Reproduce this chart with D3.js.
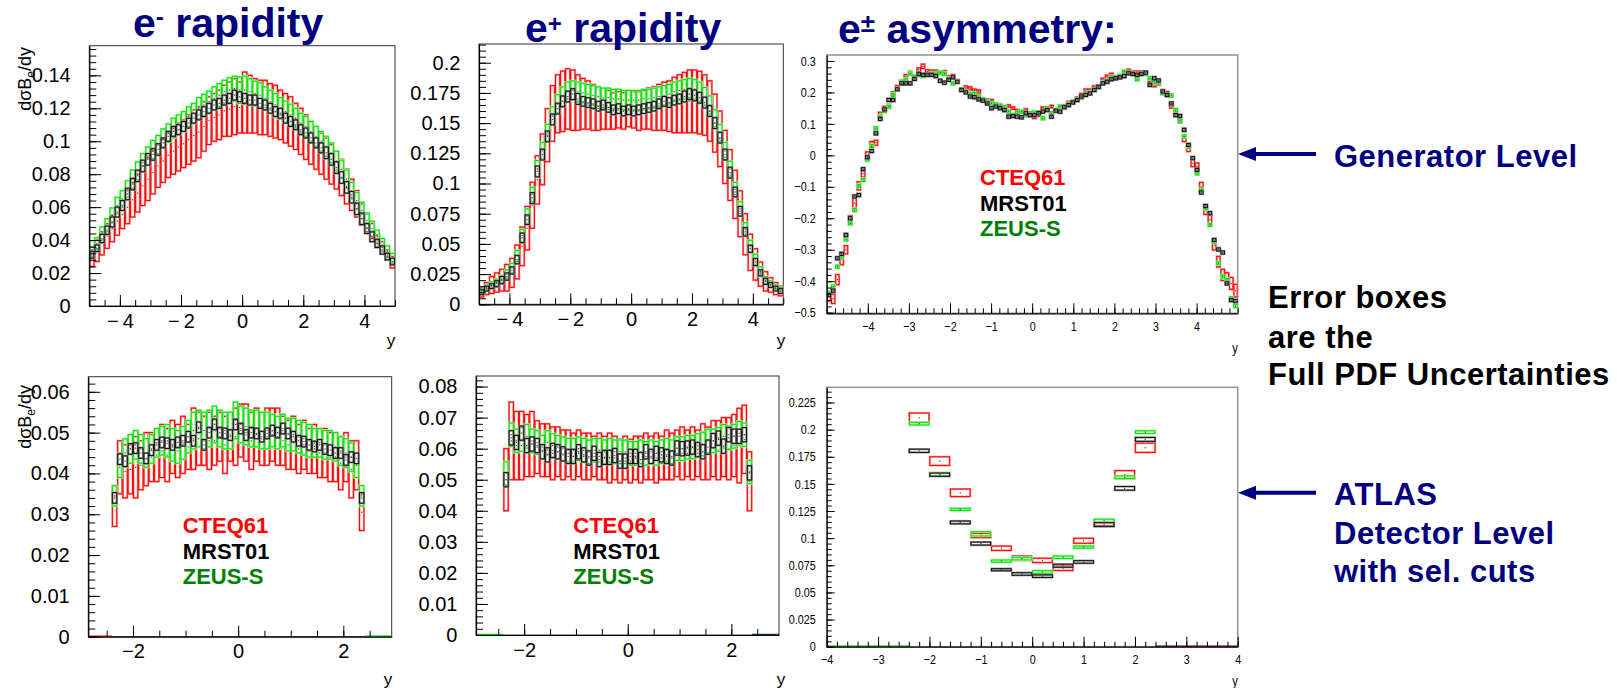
<!DOCTYPE html>
<html>
<head>
<meta charset="utf-8">
<script src="https://cdn.jsdelivr.net/npm/d3@7"></script>
<style>
  body { margin: 0; background: #fff; }
  svg { font-family: "Liberation Sans", Arial, Helvetica, sans-serif; }
</style>
</head>
<body>
<svg id="chart" width="1617" height="688"></svg>
<script>
// ---------------- data ----------------
var models = ["CTEQ61", "MRST01", "ZEUS-S"];

// bin ranges (rapidity)
var topBins = [-5, 5];      // 60 bins, generator level
var asymBins = [-5, 5];     // 96 bins, generator level asymmetry
var detBins = [-2.4, 2.4];  // 48 bins, detector level
var detAsymBins = [-2.4, 2.4]; // 12 bins, detector level asymmetry

// e- rapidity, generator level
var tlRedVal = [0.029,0.0335,0.038,0.0425,0.047,0.0515,0.0555,0.060,0.0645,0.0685,
  0.073,0.077,0.081,0.085,0.088,0.0915,0.094,0.0965,0.0985,0.101,
  0.1035,0.1055,0.109,0.1125,0.1145,0.116,0.1185,0.1195,0.121,0.1205,
  0.1235,0.1225,0.1215,0.1205,0.1205,0.119,0.118,0.116,0.114,0.112,
  0.109,0.106,0.1025,0.099,0.096,0.0925,0.0895,0.086,0.0825,0.078,
  0.0725,0.0675,0.062,0.0555,0.0505,0.0455,0.0395,0.0355,0.031,0.0265];
var tlRedErr = [0.005,0.0065,0.007,0.0075,0.008,0.0085,0.0085,0.010,0.0105,0.0115,
  0.012,0.013,0.013,0.013,0.013,0.0135,0.014,0.0145,0.0145,0.015,
  0.0155,0.0155,0.015,0.0145,0.0145,0.015,0.0155,0.0165,0.017,0.0155,
  0.0185,0.0175,0.0165,0.0165,0.0165,0.016,0.016,0.015,0.015,0.015,
  0.014,0.014,0.0135,0.013,0.013,0.0125,0.0125,0.012,0.0115,0.011,
  0.0105,0.0095,0.008,0.0065,0.0055,0.0045,0.0035,0.0035,0.003,0.0035];
var tlBlackVal = [0.031,0.035,0.041,0.046,0.051,0.057,0.061,0.068,0.074,0.079,
  0.085,0.089,0.092,0.095,0.099,0.103,0.106,0.107,0.109,0.111,
  0.114,0.116,0.118,0.120,0.122,0.123,0.125,0.126,0.128,0.127,
  0.126,0.125,0.125,0.123,0.122,0.120,0.118,0.117,0.114,0.112,
  0.110,0.107,0.105,0.102,0.099,0.096,0.093,0.089,0.084,0.078,
  0.072,0.066,0.059,0.053,0.047,0.042,0.038,0.034,0.030,0.027];
var tlBlackErr = [0.002,0.002,0.0025,0.0025,0.003,0.003,0.003,0.0035,0.0035,0.0035,
  0.0035,0.0035,0.0035,0.0035,0.003,0.003,0.003,0.003,0.003,0.003,
  0.003,0.003,0.003,0.003,0.003,0.003,0.003,0.003,0.003,0.003,
  0.003,0.003,0.003,0.003,0.003,0.003,0.003,0.003,0.003,0.003,
  0.003,0.003,0.003,0.003,0.003,0.003,0.0035,0.0035,0.0035,0.0035,
  0.0035,0.0035,0.0035,0.0035,0.003,0.003,0.0025,0.0025,0.002,0.002];
var tlGreenVal = [0.033,0.038,0.044,0.049,0.055,0.061,0.065,0.071,0.077,0.082,
  0.087,0.091,0.095,0.098,0.102,0.105,0.108,0.110,0.112,0.115,
  0.117,0.120,0.122,0.124,0.126,0.128,0.130,0.131,0.132,0.131,
  0.131,0.130,0.129,0.128,0.126,0.124,0.122,0.120,0.118,0.116,
  0.114,0.111,0.109,0.106,0.103,0.100,0.097,0.093,0.088,0.083,
  0.077,0.070,0.064,0.058,0.052,0.047,0.042,0.037,0.033,0.029];
var tlGreenErr = [0.003,0.0035,0.004,0.004,0.0045,0.005,0.005,0.005,0.0055,0.0055,
  0.0055,0.0055,0.0055,0.0055,0.0055,0.0055,0.006,0.006,0.006,0.006,
  0.006,0.0065,0.0065,0.0065,0.007,0.007,0.007,0.0075,0.0075,0.008,
  0.0085,0.008,0.0075,0.0075,0.007,0.007,0.007,0.0065,0.0065,0.0065,
  0.006,0.006,0.006,0.006,0.006,0.006,0.006,0.006,0.006,0.0055,
  0.0055,0.005,0.005,0.005,0.0045,0.0045,0.004,0.004,0.0035,0.003];

// e+ rapidity, generator level
var tmRedVal = [0.010,0.013,0.016,0.018,0.020,0.022,0.026,0.035,0.048,0.063,
  0.082,0.103,0.120,0.140,0.158,0.166,0.168,0.170,0.169,0.167,
  0.166,0.165,0.163,0.162,0.162,0.161,0.160,0.161,0.160,0.162,
  0.161,0.160,0.161,0.162,0.162,0.163,0.164,0.164,0.165,0.166,
  0.167,0.168,0.168,0.167,0.165,0.160,0.150,0.137,0.122,0.107,
  0.091,0.075,0.058,0.043,0.033,0.025,0.019,0.016,0.013,0.011];
var tmRedErr = [0.004,0.005,0.007,0.008,0.009,0.011,0.012,0.014,0.016,0.018,
  0.019,0.020,0.021,0.022,0.023,0.024,0.025,0.025,0.025,0.023,
  0.021,0.020,0.019,0.018,0.017,0.016,0.015,0.015,0.015,0.015,
  0.015,0.016,0.016,0.017,0.018,0.019,0.020,0.021,0.023,0.024,
  0.025,0.026,0.026,0.026,0.025,0.025,0.024,0.023,0.022,0.021,
  0.020,0.019,0.017,0.015,0.013,0.010,0.008,0.006,0.005,0.004];
var tmBlackVal = [0.010,0.013,0.015,0.017,0.020,0.023,0.028,0.037,0.055,0.070,
  0.088,0.110,0.124,0.139,0.153,0.162,0.168,0.172,0.174,0.170,
  0.168,0.167,0.166,0.164,0.165,0.163,0.161,0.162,0.160,0.161,
  0.160,0.161,0.162,0.163,0.164,0.166,0.168,0.167,0.169,0.170,
  0.172,0.174,0.173,0.171,0.167,0.160,0.150,0.138,0.124,0.109,
  0.093,0.077,0.060,0.046,0.035,0.026,0.019,0.016,0.013,0.011];
var tmBlackErr = [0.002,0.002,0.002,0.0025,0.003,0.003,0.003,0.0035,0.004,0.004,
  0.0045,0.0045,0.0045,0.0045,0.0045,0.0045,0.0045,0.0045,0.0045,0.0045,
  0.004,0.004,0.004,0.004,0.004,0.004,0.004,0.004,0.004,0.004,
  0.004,0.004,0.004,0.004,0.004,0.004,0.004,0.004,0.004,0.004,
  0.0045,0.0045,0.0045,0.0045,0.0045,0.0045,0.0045,0.0045,0.0045,0.0045,
  0.004,0.004,0.0035,0.003,0.003,0.0025,0.0025,0.002,0.002,0.002];
var tmGreenVal = [0.011,0.014,0.016,0.018,0.021,0.025,0.030,0.040,0.057,0.073,
  0.091,0.112,0.127,0.142,0.156,0.166,0.172,0.176,0.177,0.176,
  0.175,0.174,0.173,0.172,0.171,0.171,0.170,0.170,0.169,0.169,
  0.169,0.169,0.170,0.170,0.171,0.172,0.173,0.174,0.176,0.177,
  0.178,0.179,0.178,0.176,0.172,0.165,0.154,0.142,0.127,0.112,
  0.095,0.079,0.062,0.048,0.037,0.027,0.020,0.017,0.014,0.012];
var tmGreenErr = [0.002,0.002,0.0025,0.003,0.003,0.0035,0.004,0.0045,0.005,0.006,
  0.006,0.007,0.007,0.007,0.0075,0.0075,0.008,0.008,0.008,0.008,
  0.008,0.008,0.008,0.008,0.008,0.008,0.008,0.008,0.008,0.008,
  0.008,0.008,0.008,0.008,0.008,0.008,0.008,0.008,0.008,0.008,
  0.008,0.008,0.008,0.008,0.0075,0.0075,0.007,0.007,0.007,0.0065,
  0.006,0.006,0.0055,0.005,0.0045,0.004,0.003,0.0025,0.002,0.002];

// e+- asymmetry, generator level
var asRedVal = [-0.449,-0.456,-0.395,-0.33,-0.30,-0.205,-0.152,-0.097,-0.058,0.0,
  0.036,0.04,0.13,0.15,0.156,0.196,0.216,0.234,0.252,0.262,
  0.248,0.272,0.283,0.266,0.266,0.266,0.263,0.264,0.248,0.252,
  0.236,0.208,0.216,0.213,0.206,0.203,0.176,0.174,0.174,0.16,
  0.16,0.153,0.157,0.15,0.142,0.139,0.144,0.134,0.121,0.128,
  0.15,0.146,0.155,0.144,0.15,0.157,0.168,0.171,0.181,0.192,
  0.206,0.206,0.216,0.218,0.24,0.25,0.256,0.245,0.25,0.263,
  0.269,0.263,0.263,0.263,0.263,0.229,0.224,0.229,0.203,0.197,
  0.157,0.139,0.112,0.054,0.022,-0.025,-0.036,-0.099,-0.174,-0.205,
  -0.285,-0.338,-0.38,-0.391,-0.407,-0.43];
var asRedErr = [0.014,0.015,0.016,0.018,0.013,0.013,0.016,0.013,0.011,0.011,
  0.008,0.008,0.007,0.006,0.006,0.006,0.006,0.006,0.005,0.005,
  0.005,0.006,0.007,0.006,0.005,0.005,0.005,0.005,0.005,0.005,
  0.005,0.005,0.005,0.005,0.005,0.005,0.005,0.005,0.004,0.004,
  0.004,0.004,0.004,0.004,0.004,0.004,0.004,0.004,0.004,0.004,
  0.004,0.004,0.004,0.004,0.004,0.004,0.004,0.004,0.004,0.005,
  0.005,0.005,0.005,0.005,0.005,0.005,0.005,0.005,0.005,0.005,
  0.005,0.005,0.005,0.005,0.005,0.006,0.006,0.006,0.006,0.006,
  0.007,0.008,0.009,0.010,0.010,0.011,0.012,0.013,0.014,0.015,
  0.016,0.017,0.018,0.018,0.019,0.020];
var asBlackVal = [-0.444,-0.43,-0.327,-0.313,-0.253,-0.20,-0.131,-0.126,-0.044,-0.006,
  0.014,0.070,0.116,0.146,0.176,0.176,0.21,0.229,0.229,0.229,
  0.243,0.259,0.256,0.256,0.256,0.252,0.237,0.231,0.24,0.248,
  0.234,0.208,0.20,0.187,0.185,0.178,0.174,0.165,0.15,0.155,
  0.15,0.144,0.123,0.125,0.123,0.121,0.134,0.128,0.128,0.134,
  0.139,0.144,0.123,0.142,0.139,0.153,0.16,0.168,0.176,0.187,
  0.192,0.197,0.208,0.218,0.229,0.234,0.242,0.245,0.248,0.252,
  0.261,0.259,0.256,0.259,0.263,0.224,0.245,0.238,0.203,0.192,
  0.165,0.128,0.125,0.081,0.033,-0.009,-0.046,-0.118,-0.161,-0.184,
  -0.269,-0.299,-0.309,-0.407,-0.46,-0.463];
var asBlackErr = 0.005;
var asGreenVal = [-0.438,-0.417,-0.354,-0.322,-0.267,-0.216,-0.174,-0.097,-0.078,-0.013,
  0.030,0.086,0.123,0.141,0.155,0.192,0.21,0.234,0.24,0.26,
  0.25,0.255,0.252,0.256,0.259,0.26,0.263,0.259,0.242,0.229,
  0.234,0.21,0.203,0.195,0.195,0.187,0.178,0.171,0.165,0.162,
  0.157,0.153,0.139,0.128,0.134,0.139,0.128,0.134,0.136,0.136,
  0.118,0.15,0.134,0.144,0.155,0.153,0.163,0.171,0.176,0.184,
  0.197,0.199,0.208,0.216,0.231,0.237,0.248,0.248,0.252,0.266,
  0.263,0.259,0.242,0.259,0.259,0.245,0.234,0.231,0.197,0.192,
  0.19,0.144,0.110,0.06,0.028,-0.009,-0.057,-0.108,-0.168,-0.221,
  -0.274,-0.343,-0.385,-0.396,-0.454,-0.479];
var asGreenErr = 0.005;

// e- rapidity, detector level
var blRedVal = [0.032,0.0415,0.0405,0.041,0.0415,0.042,0.0435,0.044,0.0445,0.0455,
  0.0445,0.0465,0.0455,0.047,0.0465,0.0485,0.0485,0.048,0.048,0.048,
  0.049,0.047,0.049,0.049,0.0505,0.050,0.048,0.0495,0.0485,0.049,
  0.0495,0.049,0.048,0.047,0.0475,0.046,0.047,0.0455,0.046,0.045,
  0.045,0.044,0.044,0.0425,0.044,0.041,0.042,0.0305];
var blRedErr = [0.005,0.0065,0.0065,0.006,0.0075,0.006,0.0065,0.006,0.0065,0.0065,
  0.0065,0.0065,0.0065,0.007,0.0055,0.0075,0.0065,0.006,0.007,0.006,
  0.006,0.007,0.006,0.007,0.0065,0.007,0.007,0.0065,0.0065,0.007,
  0.0065,0.007,0.006,0.006,0.0065,0.006,0.006,0.0055,0.006,0.006,
  0.006,0.006,0.006,0.0065,0.006,0.007,0.006,0.0045];
var blBlackVal = [0.034,0.0435,0.043,0.046,0.0462,0.045,0.0437,0.0457,0.047,0.0476,
  0.0474,0.047,0.0476,0.048,0.049,0.048,0.0513,0.047,0.050,0.052,
  0.050,0.0498,0.0494,0.052,0.051,0.0494,0.050,0.0498,0.049,0.0498,
  0.0505,0.050,0.051,0.0498,0.049,0.048,0.0478,0.047,0.0466,0.047,
  0.046,0.0457,0.045,0.045,0.0433,0.044,0.0437,0.034];
var blBlackErr = 0.0013;
var blGreenVal = [0.0345,0.042,0.045,0.046,0.047,0.046,0.045,0.046,0.0475,0.048,
  0.048,0.047,0.0465,0.0475,0.049,0.0505,0.051,0.0505,0.051,0.052,
  0.051,0.0505,0.0505,0.053,0.052,0.0515,0.051,0.051,0.0505,0.0505,
  0.0505,0.050,0.0505,0.0495,0.0495,0.049,0.0485,0.048,0.0475,0.0475,
  0.047,0.047,0.0465,0.0455,0.045,0.044,0.042,0.0345];
var blGreenErr = [0.0025,0.003,0.0035,0.0035,0.0035,0.0035,0.0035,0.0035,0.0035,0.0035,
  0.004,0.004,0.004,0.004,0.004,0.0045,0.0045,0.0045,0.0045,0.0045,
  0.0045,0.0045,0.0045,0.0045,0.0045,0.0045,0.0045,0.0045,0.0045,0.0045,
  0.004,0.004,0.004,0.004,0.004,0.004,0.004,0.004,0.0035,0.0035,
  0.0035,0.0035,0.0035,0.0035,0.0035,0.0035,0.003,0.0025];

// e+ rapidity, detector level
var bmRedVal = [0.050,0.0625,0.061,0.061,0.061,0.0615,0.0605,0.0595,0.0595,0.0585,
  0.059,0.058,0.0585,0.0575,0.0585,0.0575,0.0575,0.0575,0.0575,0.057,
  0.057,0.057,0.056,0.057,0.056,0.057,0.0565,0.0575,0.057,0.057,
  0.057,0.058,0.0575,0.0585,0.0585,0.0585,0.0585,0.0585,0.059,0.0585,
  0.060,0.0595,0.0605,0.060,0.061,0.061,0.063,0.0495];
var bmRedErr = [0.010,0.0125,0.011,0.011,0.010,0.0105,0.0085,0.0085,0.0085,0.0085,
  0.008,0.008,0.0075,0.0075,0.0075,0.0075,0.0075,0.0065,0.0075,0.007,
  0.008,0.007,0.007,0.007,0.007,0.007,0.0075,0.0075,0.007,0.008,
  0.007,0.008,0.0075,0.0075,0.0085,0.0075,0.0085,0.0075,0.009,0.0085,
  0.009,0.0095,0.0095,0.010,0.010,0.012,0.011,0.0095];
var bmBlackVal = [0.050,0.0635,0.062,0.065,0.061,0.0615,0.061,0.059,0.058,0.0594,
  0.059,0.0583,0.0575,0.0575,0.059,0.058,0.057,0.0585,0.0565,0.0572,
  0.0572,0.0578,0.056,0.056,0.0575,0.0575,0.0565,0.059,0.0575,0.0585,
  0.058,0.0575,0.057,0.0602,0.060,0.0602,0.0605,0.0597,0.059,0.0605,
  0.0626,0.0634,0.0608,0.0645,0.064,0.064,0.0645,0.0522];
var bmBlackErr = 0.0023;
var bmGreenVal = [0.052,0.0645,0.0625,0.063,0.064,0.0625,0.062,0.0605,0.062,0.061,
  0.0605,0.060,0.0595,0.0595,0.060,0.0595,0.059,0.0595,0.0595,0.059,
  0.0595,0.059,0.059,0.059,0.0585,0.0585,0.059,0.0585,0.059,0.0585,
  0.059,0.0595,0.059,0.060,0.060,0.0605,0.0605,0.061,0.0615,0.0625,
  0.0625,0.063,0.064,0.0635,0.064,0.065,0.0645,0.0525];
var bmGreenErr = 0.0038;

// e+- asymmetry, detector level
var brRedVal = [0.211,0.171,0.1418,0.1025,0.0907,0.0815,0.0795,0.0722,0.0976,0.1145,0.1585,0.1833];
var brRedErr = [0.0043,0.004,0.0035,0.002,0.002,0.002,0.002,0.002,0.0023,0.003,0.0037,0.0043];
var brBlackVal = [0.1805,0.1585,0.1145,0.095,0.0709,0.067,0.065,0.0746,0.0781,0.1125,0.1459,0.191];
var brBlackErr = [0.0015,0.0015,0.0013,0.0014,0.001,0.0012,0.0012,0.0014,0.0012,0.0018,0.0017,0.0018];
var brGreenVal = [0.2055,0.159,0.1265,0.104,0.0789,0.0812,0.0689,0.0824,0.0918,0.116,0.1562,0.1977];
var brGreenErr = [0.0012,0.0015,0.001,0.002,0.001,0.0012,0.0012,0.0012,0.001,0.0015,0.0012,0.0012];

// tick labels
var tlYTicks = [0, 0.02, 0.04, 0.06, 0.08, 0.1, 0.12, 0.14];
var tmYTicks = [0, 0.025, 0.05, 0.075, 0.1, 0.125, 0.15, 0.175, 0.2];
var asYTicks = [-0.5, -0.4, -0.3, -0.2, -0.1, 0, 0.1, 0.2, 0.3];
var blYTicks = [0, 0.01, 0.02, 0.03, 0.04, 0.05, 0.06];
var bmYTicks = [0, 0.01, 0.02, 0.03, 0.04, 0.05, 0.06, 0.07, 0.08];
var brYTicks = [0, 0.025, 0.05, 0.075, 0.1, 0.125, 0.15, 0.175, 0.2, 0.225];
var topXTicks = [-4, -2, 0, 2, 4];
var asXTicks = [-4, -3, -2, -1, 0, 1, 2, 3, 4];
var detXTicks = [-2, 0, 2];

// ---------------- drawing ----------------
var navy = "#000080";
var red = { color: "#ff0000", halo: "#ff9c9c" };
var black = { color: "#111111", halo: "#9a9a9a" };
var green = { color: "#00e000", halo: "#9cff9c" };
var legendColors = ["#ff0000", "#000000", "#008000"];

var svg = d3.select("#chart");
svg.append("rect").attr("width", 1617).attr("height", 688).attr("fill", "#fff");

// two looks of ROOT frames: large labels, and the narrow asymmetry ones
var styles = {
  wide: { font: 20, squeeze: 1, yMajor: 12, xMajor: 11, yMinor: 7, xMinor: 6, yPad: 18.6, xPad: 7.5, frame: "#333", frameW: 1 },
  narrow: { font: 13, squeeze: 0.83, yMajor: 8, xMajor: 10, yMinor: 5, xMinor: 5, yPad: 11, xPad: 8.5, frame: "#999", frameW: 1.6 }
};

function withSeries(look, val, err) {
  return { val: val, err: err, color: look.color, halo: look.halo };
}

var panels = [
  { name: "eminus", frame: [89.3, 45.7, 395, 306], xDomain: [-5, 5], yDomain: [0, 0.158], bins: topBins,
    series: [withSeries(red, tlRedVal, tlRedErr), withSeries(green, tlGreenVal, tlGreenErr), withSeries(black, tlBlackVal, tlBlackErr)],
    xTicks: topXTicks, yTicks: tlYTicks, xStep: 0.5, yStep: 0.004, style: "wide", gapMinus: true,
    xTitle: [391, 346], yTitle: [31, 47] },
  { name: "eplus", frame: [479, 44, 783.3, 304.3], xDomain: [-5, 5], yDomain: [0, 0.2155], bins: topBins,
    series: [withSeries(red, tmRedVal, tmRedErr), withSeries(green, tmGreenVal, tmGreenErr), withSeries(black, tmBlackVal, tmBlackErr)],
    xTicks: topXTicks, yTicks: tmYTicks, xStep: 0.5, yStep: 0.005, style: "wide", gapMinus: true,
    xTitle: [781, 346] },
  { name: "asym", frame: [826.7, 55, 1237.7, 313.3], xDomain: [-5, 5], yDomain: [-0.502, 0.319], bins: asymBins,
    series: [withSeries(red, asRedVal, asRedErr), withSeries(green, asGreenVal, asGreenErr), withSeries(black, asBlackVal, asBlackErr)],
    xTicks: asXTicks, yTicks: asYTicks, xStep: 0.2, yStep: 0.02, style: "narrow",
    xTitle: [1235, 353], legend: [980, 185, 25.5] },
  { name: "eminusDet", frame: [88.3, 376.7, 391.7, 636.7], xDomain: [-2.85, 2.92], yDomain: [0, 0.0637], bins: detBins,
    series: [withSeries(red, blRedVal, blRedErr), withSeries(green, blGreenVal, blGreenErr), withSeries(black, blBlackVal, blBlackErr)],
    xTicks: detXTicks, yTicks: blYTicks, xStep: 0.5, yStep: 0.002, style: "wide",
    xTitle: [388, 685], yTitle: [31, 385], legend: [182.7, 533.3, 25.5], zero: ["#ff0000", "#00c000"] },
  { name: "eplusDet", frame: [476, 376, 779, 635], xDomain: [-2.93, 2.92], yDomain: [0, 0.0834], bins: detBins,
    series: [withSeries(red, bmRedVal, bmRedErr), withSeries(green, bmGreenVal, bmGreenErr), withSeries(black, bmBlackVal, bmBlackErr)],
    xTicks: detXTicks, yTicks: bmYTicks, xStep: 0.5, yStep: 0.002, style: "wide",
    xTitle: [781, 685], legend: [573.3, 533.3, 25.5], zero: ["#00c000", "#0a400a"] },
  { name: "asymDet", frame: [826.7, 387.3, 1237.7, 646.7], xDomain: [-4, 4], yDomain: [0, 0.239], bins: detAsymBins,
    series: [withSeries(red, brRedVal, brRedErr), withSeries(green, brGreenVal, brGreenErr), withSeries(black, brBlackVal, brBlackErr)],
    xTicks: asXTicks, yTicks: brYTicks, xStep: 0.2, yStep: 0.005, style: "narrow",
    xTitle: [1235, 686], zero: ["#00a000", "#600000"] }
];

function tickText(d, gap) {
  var s = String(+d.toFixed(3));
  return s.replace("-", gap ? "\u2212\u2009" : "\u2212");
}

function minorTicks(domain, step) {
  var start = Math.ceil(domain[0] / step - 1e-6);
  var stop = Math.floor(domain[1] / step + 1e-6);
  return d3.range(start, stop + 1).map(function(i) { return +(i * step).toFixed(6); });
}

function drawPanel(p) {
  var st = styles[p.style];
  var left = p.frame[0], top = p.frame[1], right = p.frame[2], bottom = p.frame[3];
  var xScale = d3.scaleLinear().domain(p.xDomain).range([left, right]);
  var yScale = d3.scaleLinear().domain(p.yDomain).range([bottom, top]);

  var g = svg.append("g").attr("class", "panel-" + p.name);

  svg.append("clipPath").attr("id", "clip-" + p.name)
    .append("rect")
    .attr("x", left).attr("y", top - 1)
    .attr("width", right - left).attr("height", bottom - top + 1);

  // frame
  g.append("rect")
    .attr("x", left).attr("y", top)
    .attr("width", right - left).attr("height", bottom - top)
    .attr("fill", "none")
    .attr("stroke", st.frame)
    .attr("stroke-width", st.frameW);

  var marks = g.append("g").attr("clip-path", "url(#clip-" + p.name + ")");

  // empty bins outside the acceptance drawn flat on zero
  if (p.zero) {
    marks.append("line")
      .attr("x1", xScale(p.xDomain[0])).attr("x2", xScale(p.bins[0]))
      .attr("y1", yScale(0) - 0.5).attr("y2", yScale(0) - 0.5)
      .attr("stroke", p.zero[0]).attr("stroke-width", 1.5);
    marks.append("line")
      .attr("x1", xScale(p.bins[1])).attr("x2", xScale(p.xDomain[1]))
      .attr("y1", yScale(0) - 0.5).attr("y2", yScale(0) - 0.5)
      .attr("stroke", p.zero[1]).attr("stroke-width", 1.5);
  }

  // error boxes, one per bin and per PDF set
  p.series.forEach(function(s) {
    var n = s.val.length;
    var w = (p.bins[1] - p.bins[0]) / n;
    var rows = s.val.map(function(v, i) {
      var e = Array.isArray(s.err) ? s.err[i] : s.err;
      return { lo: p.bins[0] + i * w, hi: p.bins[0] + (i + 1) * w, v: v, e: e };
    });

    [[s.halo, 2.2], [s.color, 1]].forEach(function(pen) {
      marks.append("g").selectAll("rect")
        .data(rows)
        .enter()
        .append("rect")
        .attr("x", d => xScale(d.lo) + 0.4)
        .attr("y", d => yScale(d.v + d.e))
        .attr("width", d => Math.max(xScale(d.hi) - xScale(d.lo) - 0.8, 1))
        .attr("height", d => Math.max(yScale(d.v - d.e) - yScale(d.v + d.e), 0.6))
        .attr("fill", "none")
        .attr("stroke", pen[0])
        .attr("stroke-width", pen[1]);
    });

    // tiny marker at the central value
    marks.append("g").selectAll("rect")
      .data(rows)
      .enter()
      .append("rect")
      .attr("x", d => xScale((d.lo + d.hi) / 2) - 0.6)
      .attr("y", d => yScale(d.v) - 0.6)
      .attr("width", 1.2)
      .attr("height", 1.2)
      .attr("fill", "#444");
  });

  // minor ticks
  g.append("g")
    .attr("transform", "translate(" + left + ",0)")
    .call(d3.axisLeft(yScale).tickValues(minorTicks(p.yDomain, p.yStep)).tickSize(-st.yMinor).tickFormat(""))
    .call(a => a.select(".domain").remove());
  g.append("g")
    .attr("transform", "translate(0," + bottom + ")")
    .call(d3.axisBottom(xScale).tickValues(minorTicks(p.xDomain, p.xStep)).tickSize(-st.xMinor).tickFormat(""))
    .call(a => a.select(".domain").remove());

  // major ticks with labels
  var yAxis = g.append("g")
    .attr("transform", "translate(" + left + ",0)")
    .call(d3.axisLeft(yScale)
      .tickValues(p.yTicks)
      .tickSizeInner(-st.yMajor)
      .tickSizeOuter(0)
      .tickPadding(st.yPad / st.squeeze)
      .tickFormat(d => tickText(d, false)));

  var xAxis = g.append("g")
    .attr("transform", "translate(0," + bottom + ")")
    .call(d3.axisBottom(xScale)
      .tickValues(p.xTicks)
      .tickSizeInner(-st.xMajor)
      .tickSizeOuter(0)
      .tickPadding(st.xPad)
      .tickFormat(d => tickText(d, p.gapMinus)));

  [yAxis, xAxis].forEach(function(ax) {
    ax.attr("font-size", st.font).attr("font-family", "'Liberation Sans', Arial, sans-serif");
    ax.selectAll(".tick line").attr("stroke", "#000");
    ax.select(".domain").attr("stroke", "#000").attr("stroke-width", 1.2);
    ax.selectAll(".tick text").attr("fill", "#000").attr("font-size", st.font);
    if (st.squeeze !== 1) {
      ax.selectAll(".tick text").attr("transform", "scale(" + st.squeeze + ",1)");
    }
  });

  // x axis title
  g.append("text")
    .attr("x", p.xTitle[0])
    .attr("y", p.xTitle[1])
    .attr("text-anchor", "middle")
    .attr("font-size", p.style === "wide" ? 17 : 14)
    .attr("transform", p.style === "wide" ? null : "translate(" + (p.xTitle[0] * 0.2) + ",0) scale(0.8,1)")
    .text("y");

  // y axis title, running upwards along the axis
  if (p.yTitle) {
    var holder = g.append("g")
      .attr("transform", "translate(" + p.yTitle[0] + "," + p.yTitle[1] + ")");
    var yt = holder.append("text")
      .attr("transform", "rotate(-90)")
      .attr("x", 0)
      .attr("y", 0)
      .attr("text-anchor", "end")
      .attr("font-size", 18);
    yt.append("tspan").text("d\u03c3B");
    yt.append("tspan").attr("font-size", 12).attr("dy", 4).text("e");
    yt.append("tspan").attr("dy", -4).text("/dy");
  }

  // legend
  if (p.legend) {
    models.forEach(function(m, i) {
      g.append("text")
        .attr("x", p.legend[0])
        .attr("y", p.legend[1] + i * p.legend[2])
        .attr("font-size", 22)
        .attr("font-weight", "bold")
        .attr("fill", legendColors[i])
        .text(m);
    });
  }
}

panels.forEach(drawPanel);

// panel titles
function title(x, y, sup, rest, supSize, supDy) {
  var t = svg.append("text")
    .attr("x", x).attr("y", y)
    .attr("font-size", 41)
    .attr("font-weight", "bold")
    .attr("fill", navy);
  t.append("tspan").text("e");
  t.append("tspan").attr("font-size", supSize).attr("dy", supDy).text(sup);
  t.append("tspan").attr("dy", -supDy).text(rest);
}
title(133, 36.5, "-", " rapidity", 24, -12);
title(525, 41.5, "+", " rapidity", 24, -10);
title(838, 42.5, "\u00b1", " asymmetry:", 26, -10.5);

// side notes with arrows
function arrow(y) {
  svg.append("line")
    .attr("x1", 1316).attr("x2", 1250)
    .attr("y1", y).attr("y2", y)
    .attr("stroke", navy)
    .attr("stroke-width", 4);
  svg.append("path")
    .attr("d", "M1238," + y + "L1256," + (y - 7) + "L1256," + (y + 7) + "Z")
    .attr("fill", navy);
}

function note(lines, x, ys, color) {
  lines.forEach(function(line, i) {
    svg.append("text")
      .attr("x", x).attr("y", ys[i])
      .attr("font-size", 31)
      .attr("font-weight", "bold")
      .attr("letter-spacing", 0.5)
      .attr("fill", color)
      .text(line);
  });
}

arrow(154);
note(["Generator Level"], 1334, [166.7], navy);
note(["Error boxes", "are the", "Full PDF Uncertainties"], 1268, [308.3, 348.3, 385], "#000");
arrow(492.7);
note(["ATLAS", "Detector Level", "with sel. cuts"], 1334, [505, 544, 582], navy);
</script>
</body>
</html>
